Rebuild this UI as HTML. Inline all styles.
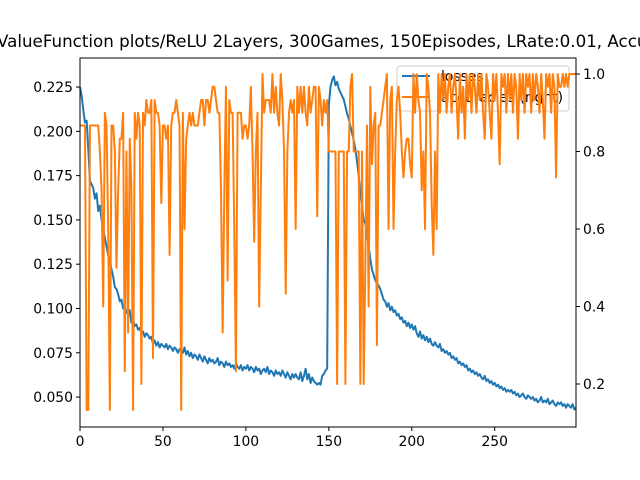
<!DOCTYPE html>
<html><head><meta charset="utf-8"><style>
html,body{margin:0;padding:0;background:#fff;}
svg{display:block;font-family:"DejaVu Sans","Liberation Sans",sans-serif;}
</style></head><body>
<svg id="chart" width="640" height="480" viewBox="0 0 640 480">
<rect x="0" y="0" width="640" height="480" fill="#fff"/>
<text x="-3" y="47" font-size="16.7" fill="#000">ValueFunction plots/ReLU 2Layers, 300Games, 150Episodes, LRate:0.01, Accuracy</text>
<g id="axes"></g>
<g id="lossg"></g>
<g id="legend">
<rect x="397" y="66" width="172" height="45" rx="3" fill="#fff" fill-opacity="0.8" stroke="#ccc"/>
<line x1="402" y1="76" x2="430" y2="76" stroke="#1f77b4" stroke-width="2"/>
<text x="441" y="81" font-size="13.9">losses</text>
<line x1="402" y1="97" x2="430" y2="97" stroke="#ff7f0e" stroke-width="2"/>
<text x="441" y="102" font-size="13.9">accuracies (right)</text>
</g>
<g id="accg"></g>
<rect x="80" y="58" width="496" height="369" fill="none" stroke="#000" stroke-width="1"/>
</svg>
<script>
const losses=[.225,.220,.212,.205,.206,.190,.172,.170,.168,.162,
.165,.155,.158,.150,.145,.140,.135,.130,.127,.122,
.118,.112,.111,.108,.104,.105,.100,.101,.098,.097,
.099,.092,.094,.090,.091,.088,.089,.086,.087,.084,
.086,.085,.083,.084,.080,.082,.079,.081,.078,.080,
.079,.078,.080,.077,.079,.078,.076,.078,.077,.075,
.077,.076,.075,.078,.074,.076,.073,.075,.072,.074,
.073,.071,.074,.072,.070,.073,.071,.069,.072,.070,
.071,.069,.070,.072,.068,.070,.069,.067,.070,.068,
.069,.067,.068,.066,.069,.067,.066,.068,.065,.067,
.066,.068,.065,.067,.066,.064,.067,.065,.066,.063,
.065,.066,.064,.067,.063,.065,.064,.062,.065,.063,
.064,.062,.065,.063,.061,.064,.062,.060,.063,.061,
.063,.061,.060,.064,.059,.062,.066,.060,.063,.058,
.061,.059,.058,.057,.058,.057,.062,.063,.065,.066,
.215,.225,.229,.231,.226,.228,.224,.222,.220,.218,
.214,.210,.207,.203,.199,.195,.190,.183,.175,.165,
.158,.150,.148,.142,.135,.128,.122,.119,.116,.114,
.113,.111,.108,.105,.104,.101,.103,.099,.101,.098,
.099,.096,.097,.094,.095,.092,.093,.090,.092,.089,
.091,.088,.090,.086,.084,.087,.083,.085,.082,.084,
.081,.083,.080,.079,.081,.079,.078,.080,.076,.077,
.075,.076,.074,.075,.072,.073,.071,.072,.069,.070,
.068,.069,.067,.068,.065,.066,.064,.065,.063,.064,
.062,.063,.061,.060,.062,.059,.060,.058,.059,.057,
.058,.056,.057,.055,.056,.054,.055,.053,.054,.053,
.054,.052,.053,.051,.052,.050,.051,.052,.050,.049,
.051,.050,.049,.050,.048,.049,.047,.048,.050,.047,
.048,.047,.049,.046,.047,.048,.046,.045,.047,.046,
.047,.045,.046,.044,.046,.045,.044,.046,.043,.044];
const accuracies=[.867,.867,.867,.867,.133,.133,.867,.867,.867,.867,
.867,.867,.8,.7,.4,.9,.867,.6,.133,.867,
.867,.8,.5,.7,.833,.833,.9,.233,.8,.333,
.833,.7,.133,.9,.833,.9,.867,.2,.9,.867,
.933,.9,.9,.933,.267,.933,.9,.9,.867,.667,
.867,.867,.833,.867,.533,.867,.9,.9,.933,.9,
.867,.133,.9,.6,.833,.867,.9,.867,.9,.867,
.867,.867,.9,.933,.933,.867,.933,.933,.9,.933,
.967,.967,.933,.9,.9,.7,.333,.7,.967,.467,
.933,.9,.9,.6,.233,.9,.9,.9,.833,.867,
.867,.833,.867,.967,.8,.567,.8,.9,.4,.7,
1.0,.9,.933,.933,.933,.9,1.0,.9,.967,.9,
.867,1.0,.933,.8,.433,.8,.9,.933,.9,.933,
.6,.967,.9,.967,.9,.967,.9,.867,.967,.9,
.933,.967,.967,.633,.967,.933,.867,.933,.9,.933,
.8,.8,.8,.8,.8,.2,.8,.8,.8,.8,
.2,.8,.8,.967,1.0,.8,.8,.8,.8,.2,
.8,.2,.5,.867,.4,.967,.767,.867,.9,.3,
.867,.867,.9,.933,.967,1.0,.6,.933,.967,.6,
.8,.933,.967,.9,.8,.733,.8,.833,.833,.767,
.733,1.0,.9,1.0,.933,.9,.7,.8,.6,1.0,
.967,.9,.667,.533,.8,.6,1.0,.9,1.0,.933,
1.0,.9,.967,1.0,.9,.967,1.0,.933,.833,1.0,
.9,.967,.833,1.0,.933,1.0,.9,1.0,.967,.9,
1.0,.933,1.0,.9,.833,1.0,.967,.9,.833,1.0,
.933,1.0,.9,.767,1.0,.967,1.0,.9,1.0,.933,
1.0,.9,1.0,.967,.833,1.0,.933,1.0,.9,1.0,
.967,1.0,.9,1.0,.933,1.0,.967,.9,1.0,.933,
.833,1.0,.967,1.0,.9,1.0,.967,.733,1.0,.967,
.967,1.0,.967,1.0,.967,1.0,1.0,1.0,1.0,1.0];
const xTicks=[0,50,100,150,200,250];
const yLeftTicks=[0.050,0.075,0.100,0.125,0.150,0.175,0.200,0.225];
const yRightTicks=[0.2,0.4,0.6,0.8,1.0];

const NS="http://www.w3.org/2000/svg";
const L=80,R=576,T=58,B=427;
const xS=v=>L+(v-0)/(299-0)*(R-L);
const yL=v=>B-(v-0.0331)/(0.2414-0.0331)*(B-T);
const yR=v=>B-(v-0.089)/(1.0413-0.089)*(B-T);
function mk(tag,attrs,parent){const e=document.createElementNS(NS,tag);for(const k in attrs)e.setAttribute(k,attrs[k]);parent.appendChild(e);return e;}
const ax=document.getElementById('axes');
xTicks.forEach(t=>{
  const x=xS(t);
  const l=mk('line',{x1:x,y1:B,x2:x,y2:B+4,stroke:'#000'},ax);
  
  
  const tx=mk('text',{x:x,y:B+19,'font-size':13.9,'text-anchor':'middle'},ax);
  tx.textContent=String(t);
  
  
});
yLeftTicks.forEach(t=>{
  const y=yL(t);
  const l=mk('line',{x1:L-4,y1:y,x2:L,y2:y,stroke:'#000'},ax);
  
  
  const tx=mk('text',{x:L-7,y:y+5,'font-size':13.9,'text-anchor':'end'},ax);
  tx.textContent=t.toFixed(3);
  
  
});
yRightTicks.forEach(t=>{
  const y=yR(t);
  const l=mk('line',{x1:R,y1:y,x2:R+4,y2:y,stroke:'#000'},ax);
  
  
  const tx=mk('text',{x:R+7,y:y+5,'font-size':13.9,'text-anchor':'start'},ax);
  tx.textContent=t.toFixed(1);
  
  
});
const lp=mk('polyline',{points:losses.map((v,i)=>xS(i).toFixed(2)+','+yL(v).toFixed(2)).join(' '),fill:'none',stroke:'#1f77b4','stroke-width':2,'stroke-linejoin':'round'},document.getElementById('lossg'));


const ap=mk('polyline',{points:accuracies.map((v,i)=>xS(i).toFixed(2)+','+yR(v).toFixed(2)).join(' '),fill:'none',stroke:'#ff7f0e','stroke-width':2,'stroke-linejoin':'round'},document.getElementById('accg'));


</script>
</body></html>
